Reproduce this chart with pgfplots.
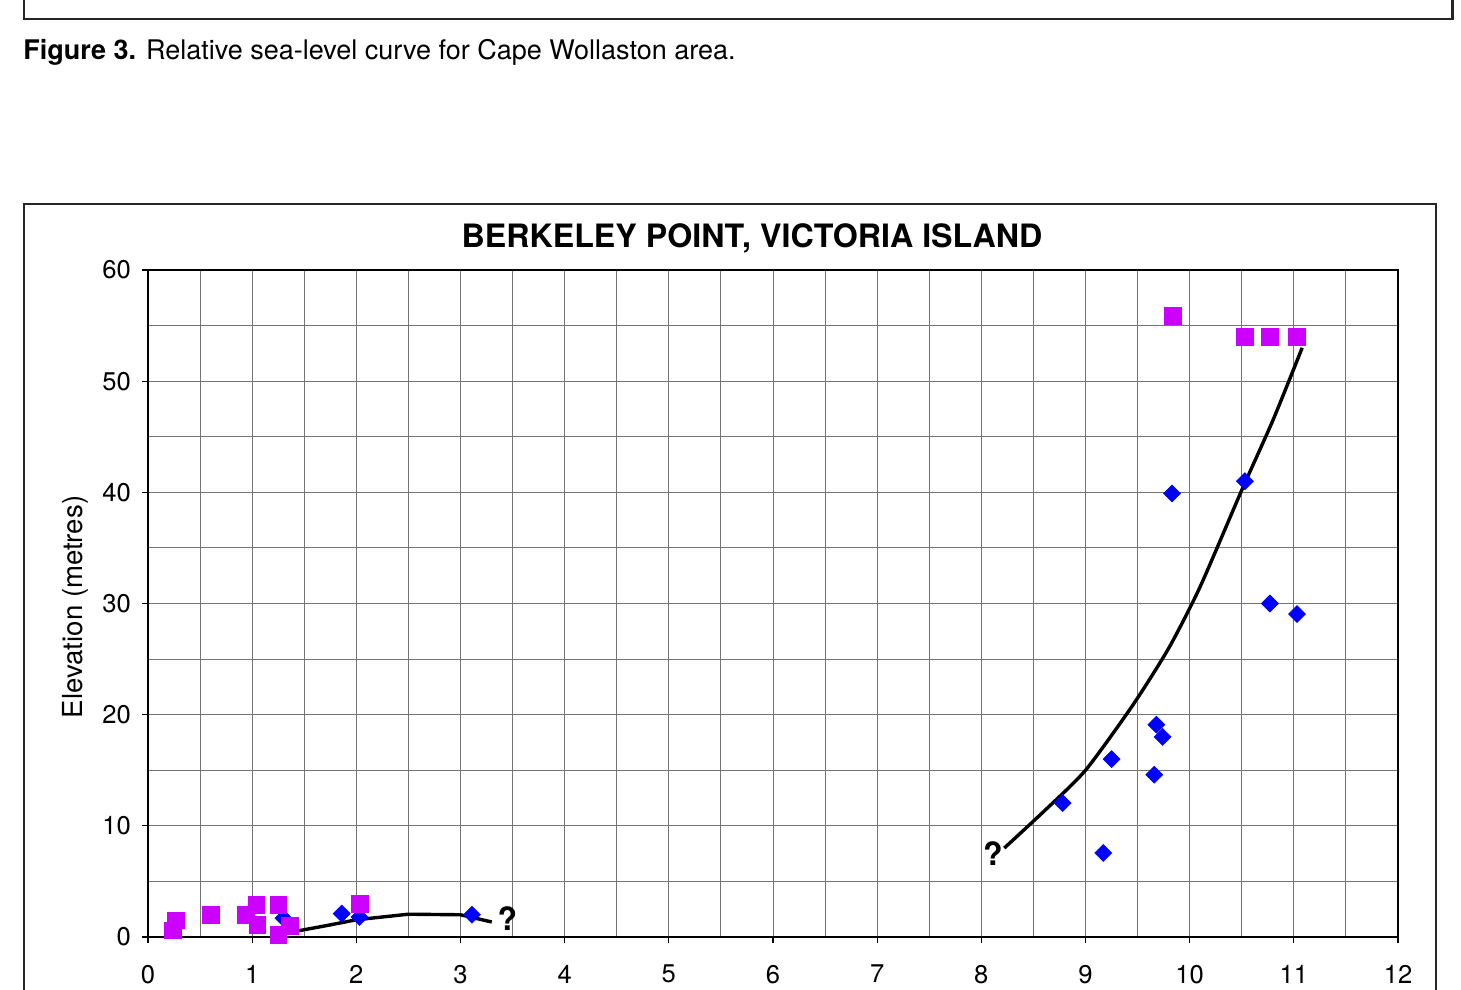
\documentclass[border=0pt]{standalone}
\usepackage{pgfplots}
\pgfplotsset{compat=1.18}
\usepackage{fontspec}
\setmainfont{TeX Gyre Heros}
\definecolor{mag}{RGB}{204,0,255}
\definecolor{blu}{RGB}{0,0,255}
\definecolor{gridc}{RGB}{115,115,115}
\begin{document}
\begin{tikzpicture}
\useasboundingbox (0,0) rectangle (730.5pt,495pt);
% previous figure frame
\draw[line width=1.4pt,black!85] (12pt,500pt) -- (12pt,485.5pt) -- (726.3pt,485.5pt) -- (726.3pt,500pt);
\node[anchor=base west,inner sep=0pt,font=\fontsize{13.5pt}{15pt}\selectfont] at (11.5pt,465pt) {\textbf{Figure 3.} Relative sea-level curve for Cape Wollaston area.};
% chart box
\draw[line width=1.4pt,black!85] (12pt,-2pt) -- (12pt,393pt) -- (718pt,393pt) -- (718pt,-2pt);
\node[font=\bfseries\fontsize{16.1pt}{18pt}\selectfont,inner sep=0pt] at (376pt,376pt) {BERKELEY POINT, VICTORIA ISLAND};
\begin{axis}[
  at={(74pt,26.5pt)}, anchor=south west,
  scale only axis, width=625pt, height=333.5pt,
  xmin=0, xmax=12, ymin=0, ymax=60,
  xtick={0,1,...,12}, ytick={0,10,...,60},
  minor x tick num=1, minor y tick num=1,
  grid=both,
  major grid style={gridc,line width=0.5pt},
  minor grid style={gridc,line width=0.5pt},
  axis line style={black,line width=0.6pt},
  tick style={black,line width=0.6pt},
  major tick length=3pt, minor tick length=0pt,
  tick align=outside, xtick pos=bottom, ytick pos=left,
  ticklabel style={font=\fontsize{12.8pt}{14pt}\selectfont},
  /pgf/number format/assume math mode=true,
  xticklabel style={yshift=-7.5pt},
  yticklabel style={xshift=-2pt},
  ylabel={Elevation (metres)},
  ylabel style={font=\fontsize{13.8pt}{15pt}\selectfont, at={(axis description cs:-0.0584,0.4948)}, anchor=center},
  clip=false,
]
% trend curves
\addplot[black,line width=1.7pt] coordinates {(1.38,0.45) (1.7,1.0) (2.0,1.55) (2.5,2.05) (3.0,2.0) (3.3,1.35)};
\addplot[black,line width=1.7pt,smooth,tension=0.4] coordinates {(8.22,8.0) (8.6,11.3) (9.0,15.0) (9.45,20.8) (9.8,26.0) (10.1,31.5) (10.5,40.2) (10.8,46.5) (11.08,53.0)};
% blue diamonds
\addplot[only marks,mark=square*,mark size=3pt,mark options={rotate=45,fill=blu,draw=blu,line width=0.3pt}] coordinates {
(1.30,1.7) (1.86,2.1) (2.03,1.8) (3.11,2.0)
(8.78,12.05) (9.17,7.56) (9.25,16.0) (9.66,14.6) (9.68,19.1) (9.74,18.0)
(9.83,39.9) (10.53,41.0) (10.77,30.0) (11.03,29.05)};
% magenta squares
\addplot[only marks,mark=square*,mark size=4.2pt,mark options={fill=mag,draw=mag,line width=0.3pt}] coordinates {
(0.24,0.6) (0.27,1.5) (0.6,2.0) (0.94,2.0) (1.04,2.9) (1.05,1.1) (1.25,2.9) (1.25,0.2) (1.36,1.0) (2.03,3.0)
(9.84,55.9) (10.53,54.0) (10.77,54.0) (11.03,54.0)};
\node[font=\bfseries\fontsize{16pt}{18pt}\selectfont] at (axis cs:8.11,7.5) {?};
\node[font=\bfseries\fontsize{16pt}{18pt}\selectfont] at (axis cs:3.45,1.65) {?};
\end{axis}
\end{tikzpicture}
\end{document}
